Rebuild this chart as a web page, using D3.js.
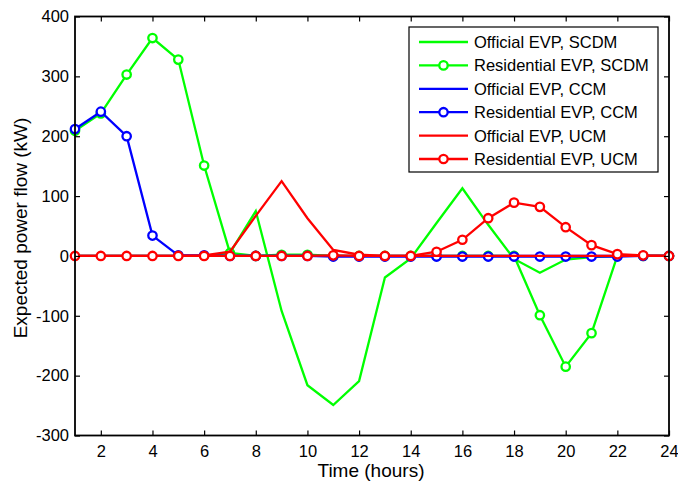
<!DOCTYPE html>
<html>
<head>
<meta charset="utf-8">
<script src="https://cdn.jsdelivr.net/npm/d3@7"></script>
<style>
  html, body { margin: 0; padding: 0; background: #fff; }
  svg { display: block; font-family: "Liberation Sans", Arial, sans-serif; }
</style>
</head>
<body>
<svg id="chart" width="678" height="483"></svg>
<script>
const hours = [1,2,3,4,5,6,7,8,9,10,11,12,13,14,15,16,17,18,19,20,21,22,23,24];
const officialSCDM    = [0,0,0,0,0,0,5,75,-92,-216,-249,-209,-36,-4,55,113,52,-5,-28,-6,-2,0,0,0];
const residentialSCDM = [209,238,303,364,328,151,5,0,2,2,0,0,0,0,0,0,0,0,-99,-185,-129,0,0,0];
const officialCCM     = [0,0,0,0,0,0,0,0,0,0,0,0,0,0,0,0,0,0,0,0,0,0,0,0];
const residentialCCM  = [212,241,200,34,1,1,0,0,0,0,-1,-1,-1,-1,-1,-1,-1,-1,-1,-1,-1,-1,0,0];
const officialUCM     = [0,0,0,0,0,1,7,67,125,63,10,2,0,0,0,0,0,0,0,0,0,0,0,0];
const residentialUCM  = [0,0,0,0,0,0,0,0,0,0,1,0,0,0,7,27,63,89,82,48,18,3,1,0];

const seriesNames = ["Official EVP, SCDM","Residential EVP, SCDM","Official EVP, CCM","Residential EVP, CCM","Official EVP, UCM","Residential EVP, UCM"];
const seriesColors = ["#00ff00","#00ff00","#0000ff","#0000ff","#ff0000","#ff0000"];
const seriesMarkers = [false,true,false,true,false,true];
const seriesValues = [officialSCDM,residentialSCDM,officialCCM,residentialCCM,officialUCM,residentialUCM];

const xTicks = [2,4,6,8,10,12,14,16,18,20,22,24];
const yTicks = [-300,-200,-100,0,100,200,300,400];

const L = 75, R = 669, T = 16.5, B = 435.5;
const svg = d3.select("#chart");
const x = d3.scaleLinear().domain([1,24]).range([L,R]);
const y = d3.scaleLinear().domain([-300,400]).range([B,T]);
const fmt = d => String(d);

// series
const line = d3.line().x((d,i)=>x(hours[i])).y(d=>y(d));
seriesValues.forEach((vals,k)=>{
  const g = svg.append("g");
  g.append("path").attr("d", line(vals)).attr("fill","none")
    .attr("stroke", seriesColors[k]).attr("stroke-width",2.3).attr("stroke-linejoin","miter");
  if (seriesMarkers[k]) {
    g.selectAll("circle").data(vals).enter().append("circle")
      .attr("cx",(d,i)=>x(hours[i])).attr("cy",d=>y(d)).attr("r",4.2)
      .attr("fill","#fff").attr("stroke",seriesColors[k]).attr("stroke-width",2.3);
  }
});

// axes
const tickLen = 5;
const axB = svg.append("g").attr("transform",`translate(0,${B})`)
  .call(d3.axisBottom(x).tickValues(xTicks).tickFormat(fmt).tickSizeInner(-tickLen).tickSizeOuter(0).tickPadding(10));
const axT = svg.append("g").attr("transform",`translate(0,${T})`)
  .call(d3.axisTop(x).tickValues(xTicks).tickSizeInner(-tickLen).tickSizeOuter(0).tickFormat(""));
const axL = svg.append("g").attr("transform",`translate(${L},0)`)
  .call(d3.axisLeft(y).tickValues(yTicks).tickFormat(fmt).tickSizeInner(-tickLen).tickSizeOuter(0).tickPadding(6));
const axR = svg.append("g").attr("transform",`translate(${R},0)`)
  .call(d3.axisRight(y).tickValues(yTicks).tickSizeInner(-tickLen).tickSizeOuter(0).tickFormat(""));
[axB,axT,axL,axR].forEach(a=>{
  a.select(".domain").remove();
  a.selectAll("line").attr("stroke","#000").attr("stroke-width",1.2);
  a.selectAll("text").attr("fill","#000").style("font-size","16.5px").style("font-family","Liberation Sans, Arial, sans-serif");
});
svg.append("rect").attr("x",L).attr("y",T).attr("width",R-L).attr("height",B-T)
  .attr("fill","none").attr("stroke","#000").attr("stroke-width",1.8);

// axis labels
svg.append("text").attr("x",(L+R)/2 - 1).attr("y",477).attr("text-anchor","middle")
  .style("font-size","19px").text("Time (hours)");
svg.append("text").attr("transform",`translate(27,${(T+B)/2 + 2}) rotate(-90)`).attr("text-anchor","middle")
  .style("font-size","19px").text("Expected power flow (kW)");

// legend
const lg = svg.append("g");
lg.append("rect").attr("x",409).attr("y",27).attr("width",249).attr("height",145)
  .attr("fill","#fff").attr("stroke","#000").attr("stroke-width",1.2);
seriesNames.forEach((name,k)=>{
  const cy = 42 + k*23.4;
  lg.append("line").attr("x1",419).attr("x2",468).attr("y1",cy).attr("y2",cy)
    .attr("stroke",seriesColors[k]).attr("stroke-width",2.3);
  if (seriesMarkers[k]) {
    lg.append("circle").attr("cx",443.5).attr("cy",cy).attr("r",4.2)
      .attr("fill","#fff").attr("stroke",seriesColors[k]).attr("stroke-width",2.3);
  }
  lg.append("text").attr("x",474).attr("y",cy).attr("dy","0.36em")
    .style("font-size","16.5px").text(name);
});
</script>
</body>
</html>
